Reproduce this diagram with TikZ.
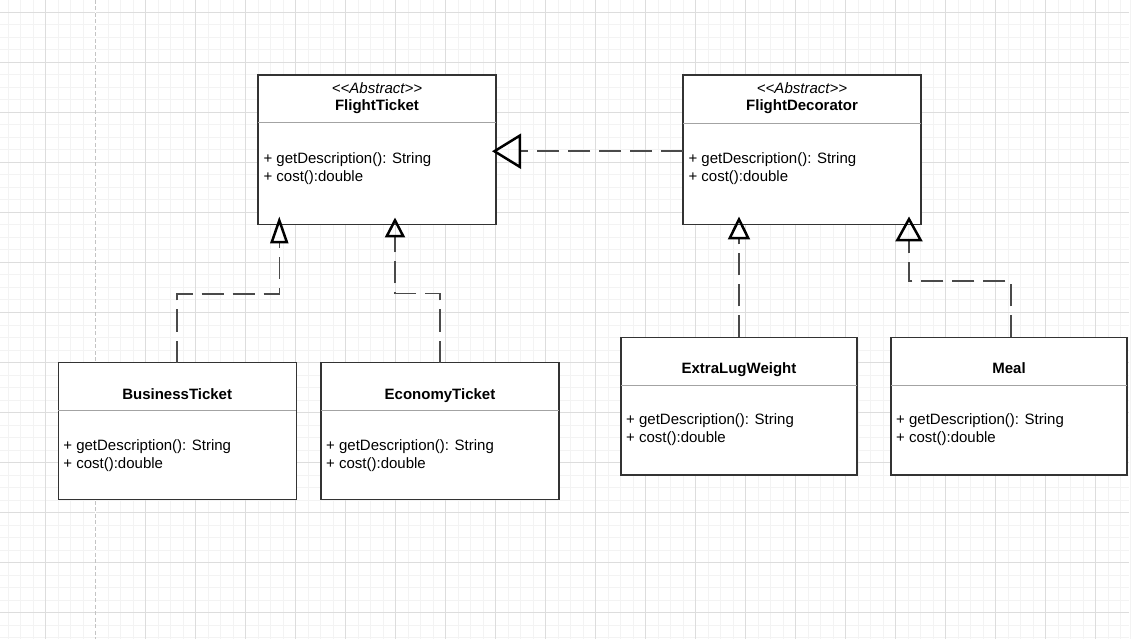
\documentclass[tikz,border=0pt]{standalone}
\usepackage{fontspec}
\setmainfont{Liberation Sans}
\usetikzlibrary{arrows.meta,calc}
\definecolor{gminor}{HTML}{F3F3F3}
\definecolor{gmajor}{HTML}{DDDDDD}
\definecolor{gpage}{HTML}{C4C4C4}
\definecolor{boxline}{HTML}{333333}
\definecolor{divline}{HTML}{A3A3A3}
\definecolor{depline}{HTML}{4A4A4A}
\tikzset{
  minorline/.style={draw=gminor, line width=1pt},
  majorline/.style={draw=gmajor, line width=1pt},
  classbox/.style={draw=boxline, line width=1.3pt, fill=white, rectangle, inner sep=0pt, outer sep=0pt},
  divider/.style={draw=divline, line width=1pt},
  stereo/.style={inner sep=0pt, anchor=base, font=\fontsize{15}{18}\selectfont\itshape},
  cname/.style={inner sep=0pt, anchor=base, font=\fontsize{15}{18}\selectfont\bfseries},
  meth/.style={inner sep=0pt, anchor=base west, font=\fontsize{15}{18}\selectfont},
  dep/.style={draw=depline, line width=1.5pt, dash pattern=on 22pt off 9pt},
  tri/.style 2 args={-{Triangle[open,length=#1,width=#2,line width=2.5pt,color=black]}}
}
\begin{document}
\begin{tikzpicture}[x=1pt,y=-1pt]
\useasboundingbox (0,0) rectangle (1136,639);
\fill[white] (0,0) rectangle (1136,639);
% grid
\foreach \i in {0,...,89} \draw[minorline] ({8+12.5*\i},0) -- ({8+12.5*\i},639);
\foreach \j in {0,...,51} \draw[minorline] (0,{12.5*\j}) -- (1129,{12.5*\j});
\foreach \k in {0,...,21} \draw[majorline] ({45.5+50*\k},0) -- ({45.5+50*\k},639);
\foreach \k in {0,...,12} \draw[majorline] (0,{12.5+50*\k}) -- (1129,{12.5+50*\k});
\draw[white, line width=1.2pt] (95.5,0) -- (95.5,639);
\draw[gpage, line width=1.2pt, dash pattern=on 4pt off 2.5pt] (95.5,0) -- (95.5,639);
\fill[white] (1129,0) rectangle (1136,639);
\draw[draw=gminor, line width=1pt] (1130.5,0) -- (1130.5,639);

% FlightTicket
\node[classbox, minimum width=238pt, minimum height=149.5pt] (FT) at (377,149.75) {};
\draw[divider] (FT.west |- 0,123) -- (FT.east |- 0,123);
\node[stereo] (FTs) at (377,93.4) {<\kern0pt<Abstract>\kern0pt>};
\node[cname] (FTn) at (377,110.8) {FlightTicket};
\node[meth] (FTm1) at (263.3,163.5) {+ getDescription(): String};
\node[meth] (FTm2) at (263.3,181.5) {+ cost():double};

% FlightDecorator
\node[classbox, minimum width=238pt, minimum height=149.5pt] (FD) at (802,149.75) {};
\draw[divider] (FD.west |- 0,123.5) -- (FD.east |- 0,123.5);
\node[stereo] (FDs) at (802,93.4) {<\kern0pt<Abstract>\kern0pt>};
\node[cname] (FDn) at (802,110.8) {FlightDecorator};
\node[meth] (FDm1) at (688.3,163.5) {+ getDescription(): String};
\node[meth] (FDm2) at (688.3,181.5) {+ cost():double};

% BusinessTicket
\node[classbox, minimum width=238pt, minimum height=137pt] (BT) at (177.2,431) {};
\draw[divider] (BT.west |- 0,410.7) -- (BT.east |- 0,410.7);
\node[cname] (BTn) at (177.2,399.3) {BusinessTicket};
\node[meth] (BTm1) at (63.2,450.2) {+ getDescription(): String};
\node[meth] (BTm2) at (63.2,468.2) {+ cost():double};

% EconomyTicket
\node[classbox, minimum width=238pt, minimum height=137pt] (ET) at (440,431) {};
\draw[divider] (ET.west |- 0,410.7) -- (ET.east |- 0,410.7);
\node[cname] (ETn) at (440,399.3) {EconomyTicket};
\node[meth] (ETm1) at (326,450.2) {+ getDescription(): String};
\node[meth] (ETm2) at (326,468.2) {+ cost():double};

% ExtraLugWeight
\node[classbox, minimum width=236pt, minimum height=137.7pt] (EL) at (739,406.15) {};
\draw[divider] (EL.west |- 0,385.3) -- (EL.east |- 0,385.3);
\node[cname] (ELn) at (739,373.8) {ExtraLugWeight};
\node[meth] (ELm1) at (626,424.8) {+ getDescription(): String};
\node[meth] (ELm2) at (626,442.8) {+ cost():double};

% Meal
\node[classbox, minimum width=236pt, minimum height=137.7pt] (ML) at (1009,406.15) {};
\draw[divider] (ML.west |- 0,385.3) -- (ML.east |- 0,385.3);
\node[cname] (MLn) at (1009,373.8) {Meal};
\node[meth] (MLm1) at (896,424.8) {+ getDescription(): String};
\node[meth] (MLm2) at (896,442.8) {+ cost():double};

% connectors
\coordinate (t1) at ($(FT.east)+(-4,1.5)$);
\draw[dep, tri={29pt}{35pt}] ($(FD.west)+(0,1.5)$) -- (t1);

\coordinate (t2) at ($(FT.south)+(-97.7,-8)$);
\draw[dep, tri={27pt}{18pt}] (BT.north) |- ($(t2)+(0,77.3)$) -- (t2);

\coordinate (t3) at ($(FT.south)+(18,-7)$);
\draw[dep, tri={20pt}{20pt}] (ET.north) |- ($(t3)+(0,75.8)$) -- (t3);

\coordinate (t4) at ($(FD.south)+(-63,-8)$);
\draw[dep, tri={23pt}{22pt}] (EL.north) -- (t4);

\coordinate (t5) at ($(FD.south)+(107,-8)$);
\draw[dep, tri={25pt}{27pt}] ($(ML.north)+(2,0)$) |- ($(t5)+(0,64.5)$) -- (t5);
\end{tikzpicture}
\end{document}
